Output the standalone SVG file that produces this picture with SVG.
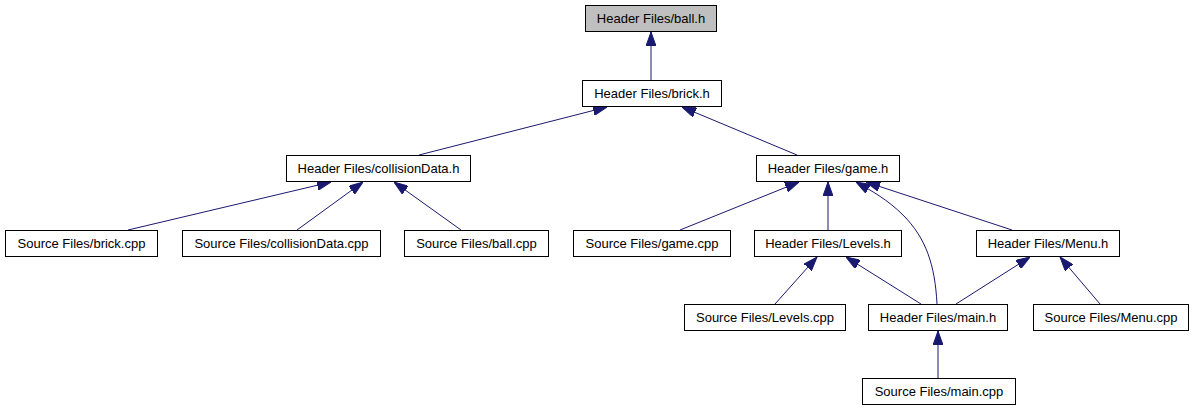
<svg xmlns="http://www.w3.org/2000/svg" width="1194" height="411" viewBox="0 0 1194 411">
<style>
.node rect{fill:#ffffff;stroke:#000000;stroke-width:1}
.node.root rect{fill:#bfbfbf}
.node text{font-family:"Liberation Sans",Arial,sans-serif;font-size:13px;fill:#000000;text-anchor:middle}
.edge{fill:none;stroke:#191970;stroke-width:1;marker-end:url(#arr)}
</style>
<defs>
<marker id="arr" markerUnits="userSpaceOnUse" markerWidth="14" markerHeight="10" refX="14" refY="5" orient="auto">
<path d="M0,0 L14,5 L0,10 z" fill="#191970" stroke="#191970" stroke-width="1"/>
</marker>
</defs>
<rect x="0" y="0" width="1194" height="411" fill="#ffffff"/>
<g id="connectors">
<path class="edge" d="M651,80 L651,32"/>
<path class="edge" d="M419,155 L607,107"/>
<path class="edge" d="M797,155 L682,107"/>
<path class="edge" d="M128,230 L331,182"/>
<path class="edge" d="M297,230 L363,182"/>
<path class="edge" d="M461,230 L394,182"/>
<path class="edge" d="M680,230 L799,182"/>
<path class="edge" d="M828,230 L828,182"/>
<path class="edge" d="M937,304 C935,265 926,238 903,215 C888,200 872,191 856,182"/>
<path class="edge" d="M1012,230 L866,182"/>
<path class="edge" d="M775,304 L817,257"/>
<path class="edge" d="M921,304 L846,257"/>
<path class="edge" d="M956,304 L1030,257"/>
<path class="edge" d="M1100,304 L1060,257"/>
<path class="edge" d="M938,378 L938,331"/>
</g>
<g id="n_ball_h" class="node root"><rect x="585.5" y="5.5" width="131" height="26"/><text x="651" y="23">Header Files/ball.h</text></g>
<g id="n_brick_h" class="node"><rect x="582.5" y="80.5" width="139" height="26"/><text x="652" y="98">Header Files/brick.h</text></g>
<g id="n_collisionData_h" class="node"><rect x="286.5" y="155.5" width="184" height="26"/><text x="378.5" y="173">Header Files/collisionData.h</text></g>
<g id="n_game_h" class="node"><rect x="756.5" y="155.5" width="143" height="26"/><text x="828" y="173">Header Files/game.h</text></g>
<g id="n_brick_cpp" class="node"><rect x="5.5" y="230.5" width="152" height="26"/><text x="81.5" y="248">Source Files/brick.cpp</text></g>
<g id="n_collisionData_cpp" class="node"><rect x="182.5" y="230.5" width="198" height="26"/><text x="281.5" y="248">Source Files/collisionData.cpp</text></g>
<g id="n_ball_cpp" class="node"><rect x="404.5" y="230.5" width="144" height="26"/><text x="476.5" y="248">Source Files/ball.cpp</text></g>
<g id="n_game_cpp" class="node"><rect x="573.5" y="230.5" width="157" height="26"/><text x="652" y="248">Source Files/game.cpp</text></g>
<g id="n_Levels_h" class="node"><rect x="754.5" y="230.5" width="147" height="26"/><text x="828" y="248">Header Files/Levels.h</text></g>
<g id="n_Menu_h" class="node"><rect x="976.5" y="230.5" width="143" height="26"/><text x="1048" y="248">Header Files/Menu.h</text></g>
<g id="n_Levels_cpp" class="node"><rect x="684.5" y="304.5" width="161" height="26"/><text x="765" y="322">Source Files/Levels.cpp</text></g>
<g id="n_main_h" class="node"><rect x="868.5" y="304.5" width="139" height="26"/><text x="938" y="322">Header Files/main.h</text></g>
<g id="n_Menu_cpp" class="node"><rect x="1033.5" y="304.5" width="155" height="26"/><text x="1111" y="322">Source Files/Menu.cpp</text></g>
<g id="n_main_cpp" class="node"><rect x="862.5" y="378.5" width="153" height="26"/><text x="939" y="396">Source Files/main.cpp</text></g>
</svg>
